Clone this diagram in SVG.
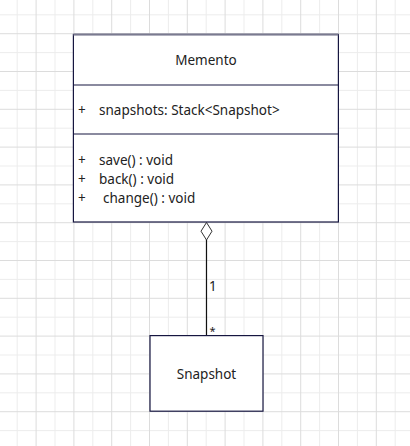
<svg xmlns="http://www.w3.org/2000/svg" width="410" height="446" viewBox="0 0 410 446">
<defs>
<style>
.g1{stroke:#ececec;stroke-width:1}
.g2{stroke:#dcdcdc;stroke-width:1}
.box{fill:#ffffff;stroke:#161640;stroke-width:1.2}
.t{font-family:"Noto Sans","Open Sans",sans-serif;font-size:13.5px;fill:#222}
.c{stroke:#111;stroke-width:1.2;fill:none}
</style>
<pattern id="grid" x="16.7" y="14.3" width="37.8" height="37.8" patternUnits="userSpaceOnUse">
<line class="g1" x1="0.5" y1="0" x2="0.5" y2="37.8"/>
<line class="g1" x1="0" y1="0.5" x2="37.8" y2="0.5"/>
<line class="g2" x1="19.4" y1="0" x2="19.4" y2="37.8"/>
<line class="g2" x1="0" y1="19.4" x2="37.8" y2="19.4"/>
</pattern>
</defs>
<rect width="410" height="446" fill="#ffffff"/>
<rect width="410" height="446" fill="url(#grid)"/>
<g id="connectors">
<line class="c" x1="206.5" y1="240" x2="206.5" y2="335.6"/>
<polygon points="206.5,222.5 212,231.2 206.5,240 201,231.2" fill="#ffffff" stroke="#333" stroke-width="1"/>
<text class="t" x="209" y="290.5">1</text>
<text class="t" x="209.5" y="335" style="font-size:11px">*</text>
</g>
<g id="memento">
<rect class="box" x="73.4" y="34.5" width="265" height="187.5"/>
<line x1="73.4" y1="34.5" x2="338.4" y2="34.5" stroke="#7a7a90" stroke-width="2"/>
<line class="box" x1="73.4" y1="85" x2="338.4" y2="85"/>
<line class="box" x1="73.4" y1="134" x2="338.4" y2="134"/>
<text class="t" x="206" y="65" text-anchor="middle">Memento</text>
<text class="t" x="78" y="115">+</text>
<text class="t" x="99" y="115">snapshots: Stack&lt;Snapshot&gt;</text>
<text class="t" x="78" y="165">+</text>
<text class="t" x="99" y="165">save() : void</text>
<text class="t" x="78" y="184">+</text>
<text class="t" x="99" y="184">back() : void</text>
<text class="t" x="78" y="203">+</text>
<text class="t" x="103" y="203">change() : void</text>
</g>
<g id="snapshot">
<rect class="box" x="150" y="335.6" width="113" height="75.6"/>
<text class="t" x="206.5" y="378.5" text-anchor="middle">Snapshot</text>
</g>
</svg>
